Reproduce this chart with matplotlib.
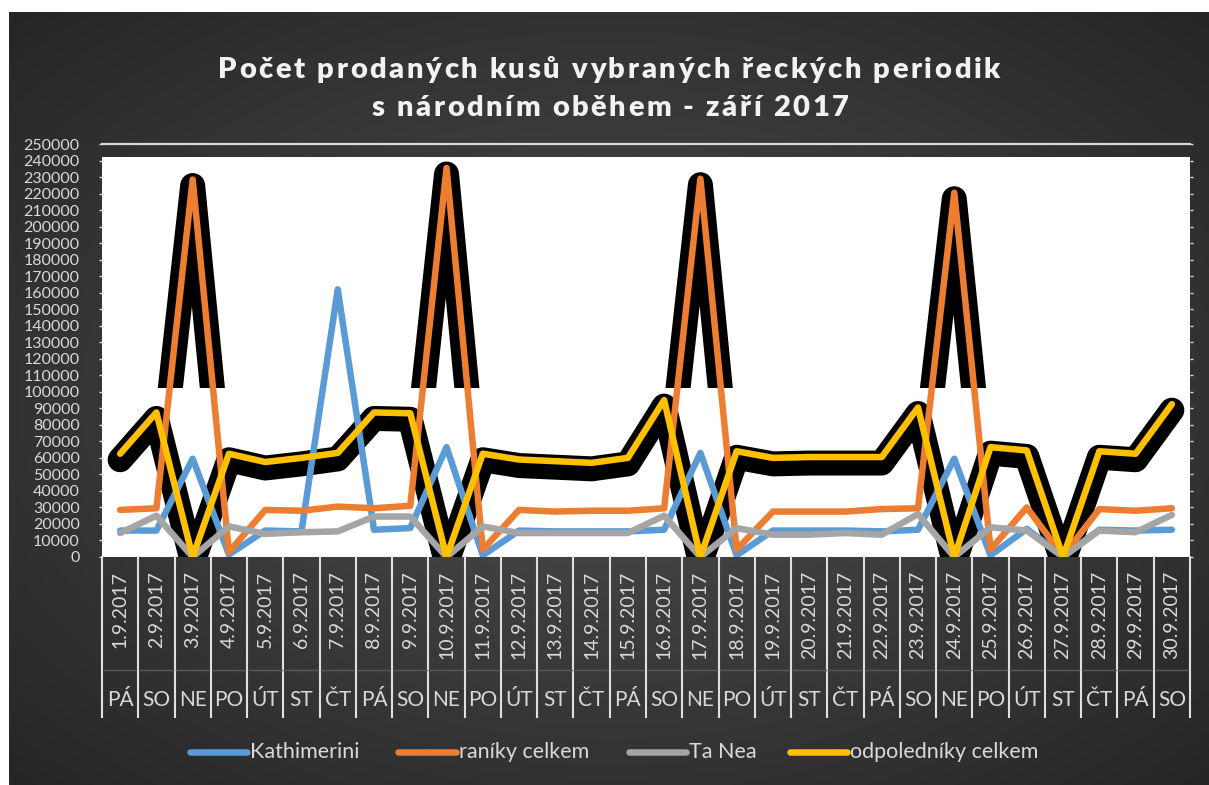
import numpy as np
import matplotlib
matplotlib.use("Agg")
import matplotlib.pyplot as plt
from matplotlib.transforms import ScaledTranslation, blended_transform_factory
from matplotlib.patches import Rectangle
from matplotlib.lines import Line2D
from matplotlib.font_manager import FontProperties

# ---------------- data ----------------
dates = [f"{d}.9.2017" for d in range(1, 31)]
days = ["PÁ", "SO", "NE", "PO", "ÚT", "ST", "ČT", "PÁ", "SO", "NE",
        "PO", "ÚT", "ST", "ČT", "PÁ", "SO", "NE", "PO", "ÚT", "ST",
        "ČT", "PÁ", "SO", "NE", "PO", "ÚT", "ST", "ČT", "PÁ", "SO"]

kathimerini = [16000, 16000, 59500, 1500, 16000, 15500, 162000, 16500, 17500, 66500,
               1000, 16000, 15500, 15500, 15500, 16500, 63000, 1000, 16000, 16000,
               16000, 15500, 16500, 59500, 1000, 17000, 500, 16500, 16000, 16500]
raniky = [28500, 29500, 228500, 3000, 28500, 28000, 30500, 29500, 31000, 235500,
          4500, 28500, 27500, 28000, 28000, 29500, 229000, 4500, 27500, 27500,
          27500, 29000, 29500, 220500, 4500, 30000, 500, 29000, 28000, 29500]
ta_nea = [14500, 25000, 0, 18500, 14000, 15000, 15500, 24500, 24500, 0,
          18500, 14500, 14500, 14500, 14500, 25000, 0, 17500, 13500, 13500,
          14500, 13500, 26000, 0, 18000, 16000, 0, 16000, 15000, 25500]
odpoledniky = [62500, 87500, 0, 62500, 57500, 60000, 63000, 87500, 87000, 0,
               62500, 59000, 58000, 57000, 60000, 95000, 0, 64000, 60000, 60500,
               60500, 60500, 90500, 0, 66500, 64500, 0, 64000, 62500, 92500]

series_names = ["Kathimerini", "raníky celkem", "Ta Nea", "odpoledníky celkem"]
series_colors = ["#5B9BD5", "#ED7D31", "#A5A5A5", "#FFC000"]
title_lines = ["Počet prodaných kusů vybraných řeckých periodik",
               "s národním oběhem - září 2017"]
yticks = list(range(0, 250001, 10000))

# ---------------- figure ----------------
W, H = 1209, 785
DPI = 100
FONT = "Lato"
fig = plt.figure(figsize=(W / DPI, H / DPI), dpi=DPI, facecolor="white")

def fy(ypix):
    return (H - ypix) / H

def fx(xpix):
    return xpix / W

# dark radial gradient background
bg = fig.add_axes([fx(9), 0, fx(W - 9), 1 - 12 / H])
bg.set_axis_off()
gx = np.linspace(-1, 1, 600)
gy = np.linspace(-1, 1, 400)
GX, GY = np.meshgrid(gx, gy)
R = np.sqrt(GX ** 2 + GY ** 2) / np.sqrt(2)
val = 0x4a - (0x4a - 0x25) * np.clip(R, 0, 1) ** 1.2
img = np.dstack([val, val, val]) / 255.0
bg.imshow(img, aspect="auto", extent=[0, 1, 0, 1], interpolation="bicubic")
bg.set_zorder(-10)

# main axes
x0, x1 = 102, 1190
y0, y1 = 557, 144
ax = fig.add_axes([fx(x0), fy(y0), fx(x1 - x0), (y0 - y1) / H])
ax.patch.set_visible(False)
ax.set_xlim(-0.5, 29.5)
ax.set_ylim(0, 250000)
for s in ax.spines.values():
    s.set_visible(False)

xs = np.arange(len(dates))
ax.axhspan(0, 242000, facecolor="white", edgecolor="none", zorder=0)
ax.axhline(250000, color="#d9d9d9", lw=1.6, zorder=1, clip_on=False)

ax.set_yticks(yticks)
ax.set_yticklabels([str(v) for v in yticks], fontsize=11.5, color="#d9d9d9",
                   fontfamily=FONT)
ax.tick_params(axis="y", direction="out", length=2, width=1, color="#d9d9d9",
               pad=14, right=True)
ax.set_xticks([])

# shadow (black glow) layers
shadow_tr = ax.transData + ScaledTranslation(0, -6 / DPI, fig.dpi_scale_trans)
sh_lw = 25 * 72 / DPI
ax.plot(xs, odpoledniky, color="black", lw=sh_lw, solid_capstyle="round",
        solid_joinstyle="round", transform=shadow_tr, zorder=2)
peak_shadow, = ax.plot(xs, raniky, color="black", lw=sh_lw, solid_capstyle="round",
                       solid_joinstyle="round", transform=shadow_tr, zorder=2)
clip_rect = Rectangle((-1, 102000), 32, 300000, transform=ax.transData)
peak_shadow.set_clip_path(clip_rect)

# series lines
lw = 6.5 * 72 / DPI
for data, col, z in zip([kathimerini, raniky, ta_nea, odpoledniky], series_colors,
                        [3, 4, 5, 6]):
    ax.plot(xs, data, color=col, lw=lw, solid_capstyle="round",
            solid_joinstyle="round", zorder=z)

# category axis (two levels)
bt = blended_transform_factory(ax.transData, fig.transFigure)
for i in range(len(dates) + 1):
    xb = i - 0.5
    fig.add_artist(Line2D([xb, xb], [fy(557), fy(717)], transform=bt,
                          color="#e0e0e0", lw=1.5))
for i in range(len(dates)):
    fig.add_artist(Line2D([i - 0.45, i + 0.45], [fy(670), fy(670)], transform=bt,
                          color="#5a5a5a", lw=1.0))
    fig.text(i, fy(571), dates[i], transform=bt, rotation=90, ha="center",
             va="top", fontsize=14, color="#d9d9d9", fontfamily=FONT)
    fig.text(i, fy(700), days[i], transform=bt, ha="center", va="center",
             fontsize=15, color="#d9d9d9", fontfamily=FONT)

# legend (manual)
leg_y = fy(752)
leg_items = [(190, 247, 250), (398, 456, 459), (629, 686, 689), (790, 847, 850)]
for (la, lb, tx), name, col in zip(leg_items, series_names, series_colors):
    fig.add_artist(Line2D([fx(la), fx(lb)], [leg_y, leg_y], color=col, lw=lw,
                          solid_capstyle="round"))
    fig.text(fx(tx), leg_y, name, ha="left", va="center", fontsize=15.5,
             color="#d9d9d9", fontfamily=FONT)

# title with letter spacing
renderer = fig.canvas.get_renderer()
tprop = FontProperties(family=FONT, weight="heavy", size=21)

def char_widths(s):
    return [renderer.get_text_width_height_descent(c, tprop, ismath=False)[0]
            for c in s]

w1 = char_widths(title_lines[0])
target = 782.0
spacing = (target - sum(w1)) / (len(title_lines[0]) - 1)

def draw_spaced(s, xc, ybase):
    ws = char_widths(s)
    total = sum(ws) + spacing * (len(s) - 1)
    x = xc - total / 2
    for c, w in zip(s, ws):
        fig.text(fx(x), fy(ybase), c, fontproperties=tprop, color="#f2f2f2",
                 ha="left", va="baseline")
        x += w + spacing

draw_spaced(title_lines[0], 609, 78)
draw_spaced(title_lines[1], 610, 116)

fig.savefig("out.png", dpi=DPI, facecolor="white")
